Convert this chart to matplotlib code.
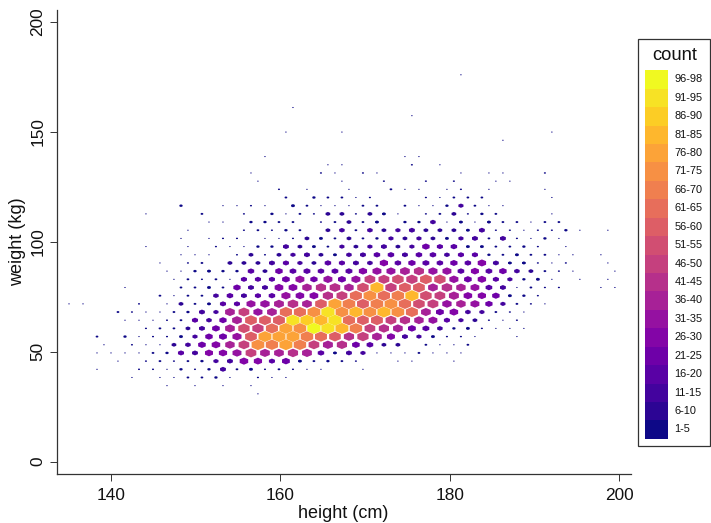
import numpy as np
import matplotlib
matplotlib.use("Agg")
import matplotlib.pyplot as plt
from matplotlib.collections import PolyCollection
from matplotlib.patches import Rectangle

plt.rcParams['font.family'] = ['Liberation Sans', 'DejaVu Sans']

# hex bin grid
hex_dx = 1.651   # cm between neighbours in one row
hex_dy = 3.718   # kg between rows
EVEN = 148.29    # height of column 0 in even rows
ODD = 147.46     # same for odd rows

# weight of each occupied row, first height of the row, and {column: count}
row_weights = [175.85, 160.98, 157.26, 149.82, 146.10, 138.67, 134.95, 131.23,
               127.51, 123.80, 120.08, 116.36, 112.64, 108.92, 105.21, 101.49,
               97.77, 94.05, 90.33, 86.62, 82.90, 79.18, 75.46, 71.74, 68.03,
               64.31, 60.59, 56.87, 53.15, 49.44, 45.72, 42.00, 38.28, 34.56, 30.85]
row_x0 = [EVEN, EVEN, ODD, ODD, EVEN, EVEN, ODD, EVEN, ODD, EVEN, ODD, EVEN, ODD,
          EVEN, ODD, EVEN, ODD, EVEN, ODD, EVEN, ODD, EVEN, ODD, EVEN, ODD, EVEN,
          ODD, EVEN, ODD, EVEN, ODD, EVEN, ODD, EVEN, ODD]
row_counts = [
    {20: 1},
    {8: 1},
    {17: 1},
    {8: 1, 12: 1, 27: 1},
    {23: 1},
    {6: 1, 16: 1, 17: 1},
    {11: 1, 12: 1, 17: 2, 19: 1},
    {5: 1, 10: 2, 11: 1, 13: 2, 14: 1, 20: 1, 22: 1, 23: 1, 26: 2},
    {6: 1, 12: 1, 15: 2, 18: 2, 20: 2, 23: 1, 24: 1},
    {7: 2, 9: 1, 12: 1, 15: 3, 16: 1, 17: 1, 19: 1, 20: 2, 22: 1, 26: 1},
    {8: 3, 10: 4, 11: 3, 12: 3, 13: 1, 14: 2, 18: 2, 19: 1, 20: 3, 21: 3, 22: 3, 27: 1},
    {0: 4, 3: 1, 4: 1, 5: 2, 6: 1, 8: 5, 9: 3, 10: 1, 11: 1, 12: 1, 13: 3, 14: 3,
     16: 3, 17: 1, 18: 1, 19: 4, 20: 11, 21: 3, 22: 1, 23: 1},
    {-2: 1, 2: 3, 5: 2, 7: 4, 8: 1, 9: 3, 10: 2, 11: 9, 12: 9, 13: 2, 14: 9, 15: 5,
     16: 1, 18: 2, 19: 3, 20: 9, 21: 2, 22: 4, 23: 3, 27: 1},
    {2: 1, 3: 1, 5: 4, 6: 4, 7: 3, 8: 3, 10: 2, 11: 3, 12: 9, 13: 3, 14: 5, 16: 4,
     17: 4, 18: 13, 19: 1, 20: 5, 21: 1, 22: 5, 23: 3, 24: 3, 25: 1, 26: 3, 27: 3},
    {1: 1, 5: 2, 6: 3, 7: 2, 8: 4, 9: 3, 11: 9, 12: 13, 13: 3, 14: 13, 15: 9, 16: 11,
     17: 15, 18: 9, 19: 9, 20: 9, 21: 5, 22: 15, 23: 2, 24: 2, 25: 1, 26: 2, 27: 2,
     28: 4, 29: 1, 31: 1},
    {0: 1, 2: 1, 3: 2, 4: 2, 6: 1, 7: 1, 8: 2, 9: 9, 10: 5, 11: 3, 12: 9, 13: 3,
     14: 4, 15: 11, 16: 9, 17: 11, 18: 9, 19: 5, 20: 11, 21: 15, 22: 3, 23: 15, 24: 2,
     25: 1, 26: 4, 27: 1},
    {-2: 1, 1: 1, 3: 2, 4: 1, 5: 1, 6: 4, 7: 4, 8: 15, 9: 9, 10: 5, 11: 3, 12: 11,
     13: 9, 14: 11, 15: 15, 16: 9, 17: 11, 18: 23, 19: 16, 20: 18, 21: 5, 22: 5, 23: 3,
     24: 3, 25: 4, 26: 2, 28: 1},
    {0: 1, 1: 1, 2: 1, 4: 2, 5: 9, 6: 2, 7: 9, 8: 11, 9: 15, 10: 9, 11: 5, 12: 13,
     13: 15, 14: 18, 15: 18, 16: 15, 17: 18, 18: 18, 19: 13, 20: 16, 21: 16, 22: 4,
     23: 3, 24: 5, 25: 3, 26: 3, 27: 1, 28: 1, 30: 1},
    {-1: 1, 1: 2, 2: 3, 4: 9, 5: 9, 6: 9, 7: 15, 8: 16, 9: 11, 10: 9, 11: 18, 12: 16,
     13: 15, 14: 13, 15: 27, 16: 18, 17: 22, 18: 20, 19: 18, 20: 22, 21: 18, 22: 28,
     23: 15, 24: 5, 25: 5, 26: 2, 27: 1, 28: 2, 31: 1},
    {-1: 1, 0: 1, 1: 4, 2: 5, 3: 4, 4: 4, 5: 18, 6: 9, 7: 23, 8: 19, 9: 20, 10: 18,
     11: 19, 12: 20, 13: 27, 14: 32, 15: 32, 16: 38, 17: 41, 18: 33, 19: 32, 20: 19,
     21: 26, 22: 19, 23: 23, 24: 13, 25: 9, 26: 3, 27: 2, 28: 1, 31: 1},
    {0: 1, 1: 3, 2: 2, 3: 3, 4: 1, 5: 16, 6: 16, 7: 16, 8: 24, 9: 32, 10: 22, 11: 32,
     12: 25, 13: 32, 14: 46, 15: 47, 16: 54, 17: 50, 18: 57, 19: 52, 20: 33, 21: 24,
     22: 28, 23: 16, 24: 11, 25: 4, 26: 5, 27: 1, 29: 1, 31: 1},
    {-4: 1, 0: 3, 1: 3, 2: 5, 3: 3, 4: 22, 5: 15, 6: 15, 7: 30, 8: 30, 9: 36, 10: 42,
     11: 45, 12: 36, 13: 53, 14: 82, 15: 50, 16: 58, 17: 58, 18: 38, 19: 44, 20: 36,
     21: 31, 22: 19, 23: 15, 24: 1, 25: 3, 26: 2, 27: 2, 30: 1, 31: 1},
    {-1: 3, 0: 1, 1: 3, 2: 3, 3: 13, 4: 18, 5: 15, 6: 16, 7: 18, 8: 33, 9: 29, 10: 30,
     11: 42, 12: 47, 13: 62, 14: 72, 15: 65, 16: 68, 17: 85, 18: 54, 19: 46, 20: 40,
     21: 29, 22: 27, 23: 23, 24: 5, 25: 4, 26: 2},
    {-8: 1, -7: 1, -3: 2, -1: 1, 0: 9, 1: 3, 2: 5, 3: 16, 4: 16, 5: 32, 6: 35, 7: 39,
     8: 44, 9: 38, 10: 56, 11: 80, 12: 70, 13: 60, 14: 70, 15: 72, 16: 65, 17: 55,
     18: 47, 19: 35, 20: 36, 21: 32, 22: 22, 23: 11, 24: 3, 25: 2, 26: 1},
    {-4: 3, -3: 2, -2: 1, -1: 1, 0: 3, 1: 4, 2: 15, 3: 11, 4: 38, 5: 46, 6: 33, 7: 38,
     8: 64, 9: 63, 10: 74, 11: 93, 12: 72, 13: 84, 14: 72, 15: 82, 16: 72, 17: 62,
     18: 38, 19: 25, 20: 29, 21: 13, 22: 11, 23: 3, 24: 2, 25: 1},
    {-4: 1, -3: 1, -2: 1, -1: 2, 0: 3, 1: 16, 2: 13, 3: 22, 4: 38, 5: 58, 6: 58, 7: 60,
     8: 92, 9: 88, 10: 82, 11: 92, 12: 64, 13: 57, 14: 60, 15: 46, 16: 42, 17: 36,
     18: 31, 19: 16, 20: 11, 21: 9, 22: 2, 23: 1, 24: 2},
    {-2: 2, -1: 3, 0: 3, 1: 9, 2: 15, 3: 24, 4: 38, 5: 52, 6: 50, 7: 62, 8: 78, 9: 72,
     10: 98, 11: 92, 12: 82, 13: 68, 14: 46, 15: 42, 16: 38, 17: 25, 18: 20, 19: 13,
     20: 4, 21: 5, 22: 2, 23: 1, 24: 1, 25: 1},
    {-6: 3, -4: 4, -3: 1, -2: 2, -1: 2, 0: 5, 1: 11, 2: 23, 3: 25, 4: 33, 5: 58, 6: 76,
     7: 80, 8: 78, 9: 70, 10: 62, 11: 56, 12: 42, 13: 50, 14: 38, 15: 26, 16: 15, 17: 11,
     18: 5, 19: 2, 20: 2, 21: 1, 24: 1},
    {-5: 1, -3: 2, -2: 1, -1: 1, 0: 9, 1: 13, 2: 24, 3: 29, 4: 36, 5: 46, 6: 72, 7: 66,
     8: 76, 9: 68, 10: 46, 11: 40, 12: 42, 13: 24, 14: 19, 15: 9, 16: 9, 18: 3, 19: 1,
     20: 1, 21: 3},
    {-6: 1, -5: 1, -4: 1, -3: 1, -2: 3, -1: 4, 0: 16, 1: 15, 2: 26, 3: 27, 4: 32, 5: 46,
     6: 38, 7: 38, 8: 42, 9: 39, 10: 18, 11: 5, 12: 15, 13: 11, 14: 1, 15: 1, 16: 1,
     17: 3, 18: 1, 19: 1, 20: 1},
    {-4: 1, -2: 2, -1: 3, 0: 2, 1: 3, 2: 4, 3: 11, 4: 15, 5: 29, 6: 27, 7: 16, 8: 25,
     9: 5, 10: 3, 11: 4, 12: 3, 13: 2, 16: 1, 17: 1, 20: 1},
    {-6: 1, -3: 2, -2: 2, -1: 1, 0: 4, 1: 2, 2: 4, 3: 15, 4: 3, 5: 5, 6: 2, 7: 3, 8: 2,
     9: 1, 10: 1, 13: 1},
    {-3: 1, -1: 1, 0: 1, 1: 3, 2: 3, 3: 4, 4: 1, 6: 2, 7: 1, 8: 1},
    {-1: 1, 1: 1, 3: 1, 5: 1},
    {6: 1},
]

legend_labels = ['1-5', '6-10', '11-15', '16-20', '21-25', '26-30', '31-35', '36-40',
                 '41-45', '46-50', '51-55', '56-60', '61-65', '66-70', '71-75', '76-80',
                 '81-85', '86-90', '91-95', '96-98']
x_ticks = [140, 160, 180, 200]
y_ticks = [0, 50, 100, 150, 200]

W, H = 711, 523
fig = plt.figure(figsize=(W/100, H/100), dpi=100)
ax = fig.add_axes([56.7/W, (H-473.7)/H, (631-56.7)/W, (473.7-10)/H])

cmap = plt.get_cmap('plasma', 20)

def bin_color(c):
    return cmap(min((c-1)//5, 19))

# unit hexagon, point up
hx = np.array([0, 1, 1, 0, -1, -1]) * hex_dx/2
hy = np.array([1, .5, -.5, -1, -.5, .5]) * hex_dy*2/3

polys = []
colors = []
for w, x0, counts in zip(row_weights, row_x0, row_counts):
    for col, c in counts.items():
        s = np.interp(c, [1, 5, 10, 28, 50, 75, 98], [.1, .27, .35, .6, .8, .92, .95])
        polys.append(np.column_stack([x0 + col*hex_dx + s*hx, w + 1.08*s*hy]))
        colors.append(bin_color(c))
ax.add_collection(PolyCollection(polys, facecolors=colors, edgecolors='none'))

ax.set_xlim(133.63, 201.37)
ax.set_ylim(-5.45, 205.3)
ax.set_xticks(x_ticks)
ax.set_yticks(y_ticks)
ax.spines['top'].set_visible(False)
ax.spines['right'].set_visible(False)
for s in ['left', 'bottom']:
    ax.spines[s].set_linewidth(0.9)
    ax.spines[s].set_color('#333333')
ax.tick_params(length=5, width=0.7, color='#333333', labelsize=12.4, labelcolor='#111111')
ax.tick_params(axis='x', pad=5)
ax.tick_params(axis='y', pad=3.3)
plt.setp(ax.get_yticklabels(), rotation=90, va='center')
ax.set_xlabel("height (cm)", fontsize=13, color='#111111')
ax.set_ylabel("weight (kg)", fontsize=13, color='#111111')
ax.xaxis.set_label_coords((343.5-56.7)/(631-56.7), -(513.5-473.7)/(473.7-10), transform=ax.transAxes)
ax.yaxis.set_label_coords(-(56.7-18)/(631-56.7), (473.7-242)/(473.7-10), transform=ax.transAxes)
ax.xaxis.label.set_verticalalignment('center')
ax.yaxis.label.set_verticalalignment('center')

# legend in figure pixels
lax = fig.add_axes([0, 0, 1, 1])
lax.set_xlim(0, W)
lax.set_ylim(H, 0)
lax.axis('off')
lax.add_patch(Rectangle((637.5, 38.5), 72.5, 407, fc='white', ec='#333333', lw=0.9))
lax.text(675, 56, "count", fontsize=13.2, ha='center', va='center', color='#111111')
cell_h = (438.7-70)/20
for n, lab in enumerate(legend_labels):
    top = 438.7 - (n+1)*cell_h
    lax.add_patch(Rectangle((645, top), 23, cell_h+0.2, fc=cmap(n), ec='none'))
    lax.text(674.3, top + cell_h/2, lab, fontsize=7.9, ha='left', va='center', color='#111111')

fig.savefig("out.png", dpi=100)
